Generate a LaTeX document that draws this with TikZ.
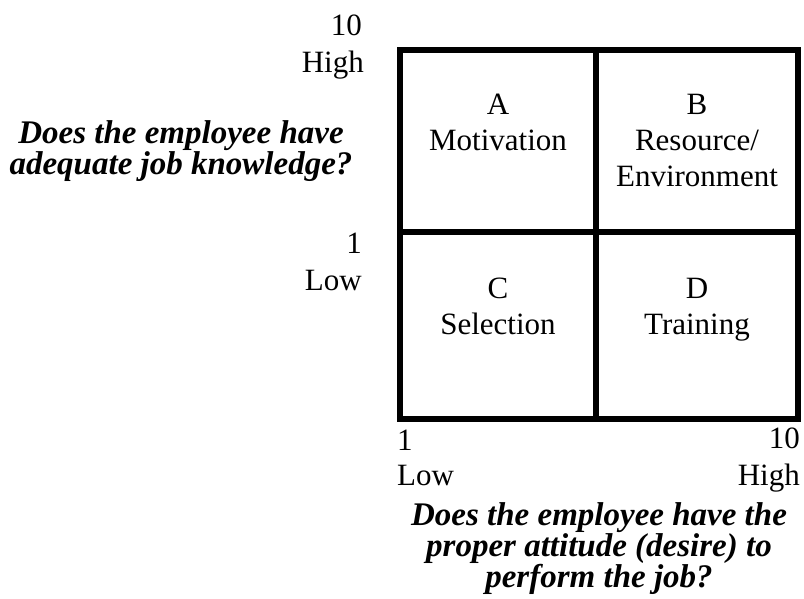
\documentclass[tikz,border=0pt]{standalone}
\usepackage{fontspec}
\setmainfont{Liberation Serif}
\usetikzlibrary{positioning}

\begin{document}
\begin{tikzpicture}[x=1pt,y=-1pt,
  every node/.style={inner sep=0pt},
  tick/.style={font=\fontsize{31}{36}\selectfont},
  cell/.style={font=\fontsize{31}{36}\selectfont,align=center,anchor=base},
  question/.style={font=\fontsize{33}{31}\selectfont\bfseries\itshape,align=center,anchor=base}]
  \useasboundingbox (0,0) rectangle (804,598);
  % the four quadrants (node base = last line)
  \draw[line width=6pt] (400,50) rectangle (798,419);
  \draw[line width=6pt] (596,50) -- (596,419) (400,232) -- (798,232);
  \foreach \n/\x/\y/\lab in {a/498/150/{A\\Motivation},
                             b/697/186/{B\\Resource/\\Environment},
                             c/498/334/{C\\Selection},
                             d/697/334/{D\\Training}}
    \node[cell] (\n) at (\x,\y) {\lab};
  % vertical scale
  \node[tick,anchor=base east] (yten)  at (362,35)  {10};
  \node[tick,anchor=base east] (yhigh) at (364,72)  {High};
  \node[tick,anchor=base east] (yone)  at (362,253) {1};
  \node[tick,anchor=base east] (ylow)  at (362,290) {Low};
  % horizontal scale
  \node[tick,anchor=base west] (xone)  at (397,450) {1};
  \node[tick,anchor=base west] (xlow)  at (397,485) {Low};
  \node[tick,anchor=base east] (xten)  at (800,448) {10};
  \node[tick,anchor=base east] (xhigh) at (800,485) {High};
  % questions on the axes
  \node[question] (knowledge) at (181,174) {Does the employee have\\adequate job knowledge?};
  \node[question] (attitude) at (599,587) {Does the employee have the\\proper attitude (desire) to\\perform the job?};
\end{tikzpicture}
\end{document}
